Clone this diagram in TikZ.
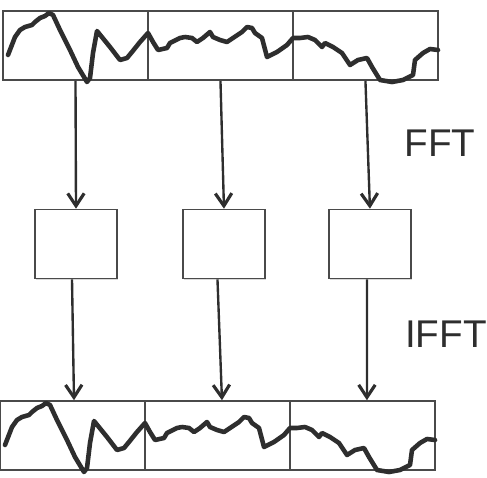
\documentclass[tikz,border=0pt]{standalone}
\usepackage{fontspec}
\setmainfont{Liberation Sans}
\usetikzlibrary{arrows.meta,shadows}

\definecolor{garis}{HTML}{4A4A4A}
\definecolor{tinta}{HTML}{2E2E2E}

% jejak sinyal, koordinat dalam piksel
\newcommand{\gelombang}{%
  (8,55) -- (15,37) -- (20,30) -- (25,27) -- (32,25) -- (35,22) -- (40,18)
  -- (45,16) -- (49,13) -- (53,15) -- (60,30) -- (70,50) -- (78,67)
  -- (87,82) -- (90,78) -- (93,53) -- (97,31) -- (110,47) -- (120,60)
  -- (127,58) -- (132,52) -- (140,42) -- (148,33) -- (153,42) -- (158,50)
  -- (167,48) -- (170,43) -- (180,38) -- (185,37) -- (192,38) -- (197,42)
  -- (203,38) -- (210,32) -- (213,37) -- (220,40) -- (227,42) -- (233,38)
  -- (242,32) -- (247,27) -- (252,28) -- (255,33) -- (262,38) -- (267,57)
  -- (277,52) -- (287,45) -- (293,38) -- (300,38) -- (308,37) -- (315,40)
  -- (322,47) -- (325,43) -- (333,47) -- (342,53) -- (350,65) -- (358,60)
  -- (367,58) -- (372,67) -- (380,80) -- (392,82) -- (403,80) -- (413,75)
  -- (415,60) -- (423,53) -- (430,49) -- (438,50)}

\begin{document}
\begin{tikzpicture}[x=0.02cm, y=-0.02cm, node distance=2.9cm,
      segmen/.style={draw=garis, line width=0.9pt, fill=white, inner sep=0pt,
        minimum width=2.9cm, minimum height=1.38cm,
        drop shadow={shadow xshift=0.6pt, shadow yshift=-0.8pt, opacity=0.3}},
      blok/.style={segmen, minimum width=1.64cm},
      panah/.style={draw=tinta, line width=1.35pt,
        -{Straight Barb[length=2.5mm, width=3.3mm, line width=1.8pt]}},
      sinyal/.style={draw=tinta, line width=2.6pt, line join=round, line cap=round},
      judul/.style={text=tinta, font=\fontsize{22}{26}\selectfont}]
    \useasboundingbox (0,0) rectangle (487,477);

    % sinyal masukan
    \node[segmen] (seg1) at (75.5,45.5) {};
    \node[segmen, right of=seg1] (seg2) {};
    \node[segmen, right of=seg2] (seg3) {};
    \draw[sinyal] \gelombang;

    % blok frekuensi
    \node[blok] (blok1) at (76,244) {};
    \node[blok, right of=blok1, node distance=2.96cm] (blok2) {};
    \node[blok, right of=blok2, node distance=2.92cm] (blok3) {};

    % sinyal keluaran
    \node[segmen] (hasil1) at (72.5,435.5) {};
    \node[segmen, right of=hasil1] (hasil2) {};
    \node[segmen, right of=hasil2] (hasil3) {};
    \begin{scope}[shift={(-3,390)}]
      \draw[sinyal] \gelombang;
    \end{scope}

    \draw[panah] (seg1.south) -- (blok1.north);
    \draw[panah] (seg2.south) -- (blok2.north);
    \draw[panah] (seg3.south) -- (blok3.north);
    \draw[panah] ([xshift=-0.08cm]blok1.south) -- ([xshift=0.03cm]hasil1.north);
    \draw[panah] ([xshift=-0.13cm]blok2.south) -- ([xshift=0.09cm]hasil2.north);
    \draw[panah] ([xshift=-0.06cm]blok3.south) -- ([xshift=0.09cm]hasil3.north);

    \node[judul] (fft) at (440,143.5) {FFT};
    \node[judul] (ifft) at (446,334) {IFFT};
  \end{tikzpicture}
\end{document}
